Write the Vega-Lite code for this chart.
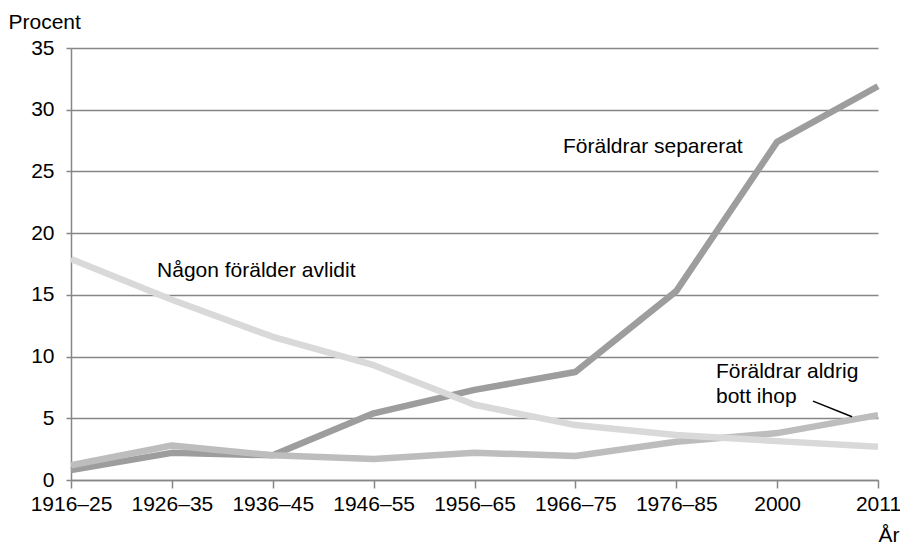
{
  "$schema": "https://vega.github.io/schema/vega-lite/v6.json",
  "width": 807,
  "height": 432,
  "autosize": {"type": "none"},
  "padding": {"left": 71, "top": 48, "right": 22, "bottom": 64},
  "config": {"view": {"stroke": null}, "font": "Liberation Sans"},
  "encoding": {
    "x": {
      "field": "i",
      "type": "quantitative",
      "scale": {"domain": [0, 8], "nice": false, "zero": false},
      "axis": {
        "values": [0, 1, 2, 3, 4, 5, 6, 7, 8],
        "labelExpr": "['1916–25','1926–35','1936–45','1946–55','1956–65','1966–75','1976–85','2000','2011'][datum.value]",
        "grid": false,
        "tickSize": 8,
        "tickColor": "#868686",
        "tickWidth": 1.5,
        "domainColor": "#868686",
        "domainWidth": 1.5,
        "labelFontSize": 21,
        "labelColor": "#000000",
        "labelPadding": 5,
        "labelFlush": false,
        "labelOverlap": false,
        "title": "År",
        "titleFontSize": 21,
        "titleFontWeight": "normal",
        "titleColor": "#000000",
        "titleX": 807,
        "titleY": 61,
        "titleAlign": "left",
        "titleBaseline": "alphabetic"
      }
    },
    "y": {
      "field": "procent",
      "type": "quantitative",
      "scale": {"domain": [0, 35], "nice": false},
      "axis": {
        "values": [0, 5, 10, 15, 20, 25, 30, 35],
        "grid": true,
        "gridColor": "#868686",
        "gridWidth": 1.5,
        "tickSize": 5,
        "tickColor": "#868686",
        "tickWidth": 1.5,
        "domainColor": "#868686",
        "domainWidth": 1.5,
        "labelFontSize": 21,
        "labelColor": "#000000",
        "labelPadding": 12,
        "title": "Procent",
        "titleAngle": 0,
        "titleFontSize": 21,
        "titleFontWeight": "normal",
        "titleColor": "#000000",
        "titleX": -63,
        "titleY": -20,
        "titleAlign": "left",
        "titleBaseline": "alphabetic"
      }
    }
  },
  "layer": [
    {
      "data": {
        "values": [
          {"serie": "Föräldrar separerat", "i": 0, "period": "1916–25", "procent": 0.8},
          {"serie": "Föräldrar separerat", "i": 1, "period": "1926–35", "procent": 2.2},
          {"serie": "Föräldrar separerat", "i": 2, "period": "1936–45", "procent": 2.0},
          {"serie": "Föräldrar separerat", "i": 3, "period": "1946–55", "procent": 5.4},
          {"serie": "Föräldrar separerat", "i": 4, "period": "1956–65", "procent": 7.3},
          {"serie": "Föräldrar separerat", "i": 5, "period": "1966–75", "procent": 8.75},
          {"serie": "Föräldrar separerat", "i": 6, "period": "1976–85", "procent": 15.3},
          {"serie": "Föräldrar separerat", "i": 7, "period": "2000", "procent": 27.4},
          {"serie": "Föräldrar separerat", "i": 8, "period": "2011", "procent": 31.9},
          {"serie": "Föräldrar aldrig bott ihop", "i": 0, "period": "1916–25", "procent": 1.2},
          {"serie": "Föräldrar aldrig bott ihop", "i": 1, "period": "1926–35", "procent": 2.8},
          {"serie": "Föräldrar aldrig bott ihop", "i": 2, "period": "1936–45", "procent": 2.0},
          {"serie": "Föräldrar aldrig bott ihop", "i": 3, "period": "1946–55", "procent": 1.7},
          {"serie": "Föräldrar aldrig bott ihop", "i": 4, "period": "1956–65", "procent": 2.2},
          {"serie": "Föräldrar aldrig bott ihop", "i": 5, "period": "1966–75", "procent": 1.95},
          {"serie": "Föräldrar aldrig bott ihop", "i": 6, "period": "1976–85", "procent": 3.1},
          {"serie": "Föräldrar aldrig bott ihop", "i": 7, "period": "2000", "procent": 3.8},
          {"serie": "Föräldrar aldrig bott ihop", "i": 8, "period": "2011", "procent": 5.26},
          {"serie": "Någon förälder avlidit", "i": 0, "period": "1916–25", "procent": 17.9},
          {"serie": "Någon förälder avlidit", "i": 1, "period": "1926–35", "procent": 14.6},
          {"serie": "Någon förälder avlidit", "i": 2, "period": "1936–45", "procent": 11.6},
          {"serie": "Någon förälder avlidit", "i": 3, "period": "1946–55", "procent": 9.3},
          {"serie": "Någon förälder avlidit", "i": 4, "period": "1956–65", "procent": 6.1},
          {"serie": "Någon förälder avlidit", "i": 5, "period": "1966–75", "procent": 4.45},
          {"serie": "Någon förälder avlidit", "i": 6, "period": "1976–85", "procent": 3.65},
          {"serie": "Någon förälder avlidit", "i": 7, "period": "2000", "procent": 3.15},
          {"serie": "Någon förälder avlidit", "i": 8, "period": "2011", "procent": 2.7}
        ]
      },
      "mark": {"type": "line", "strokeWidth": 6.5, "strokeJoin": "round"},
      "encoding": {
        "color": {
          "field": "serie",
          "type": "nominal",
          "scale": {
            "domain": ["Föräldrar separerat", "Föräldrar aldrig bott ihop", "Någon förälder avlidit"],
            "range": ["#9d9d9d", "#bdbdbd", "#d9d9d9"]
          },
          "legend": null
        }
      }
    },
    {
      "data": {
        "values": [
          {"label": "Föräldrar separerat", "i": 4.877, "procent": 26.5},
          {"label": "Någon förälder avlidit", "i": 0.853, "procent": 16.45},
          {"label": "Föräldrar aldrig", "i": 6.394, "procent": 8.28},
          {"label": "bott ihop", "i": 6.394, "procent": 6.23}
        ]
      },
      "mark": {"type": "text", "align": "left", "baseline": "alphabetic", "fontSize": 21, "color": "#000000"},
      "encoding": {
        "text": {"field": "label", "type": "nominal"}
      }
    },
    {
      "data": {
        "values": [
          {"i": 7.356, "procent": 6.39, "i2": 7.743, "procent2": 5.12}
        ]
      },
      "mark": {"type": "rule", "color": "#000000", "strokeWidth": 1.5},
      "encoding": {
        "x2": {"field": "i2"},
        "y2": {"field": "procent2"}
      }
    }
  ]
}
